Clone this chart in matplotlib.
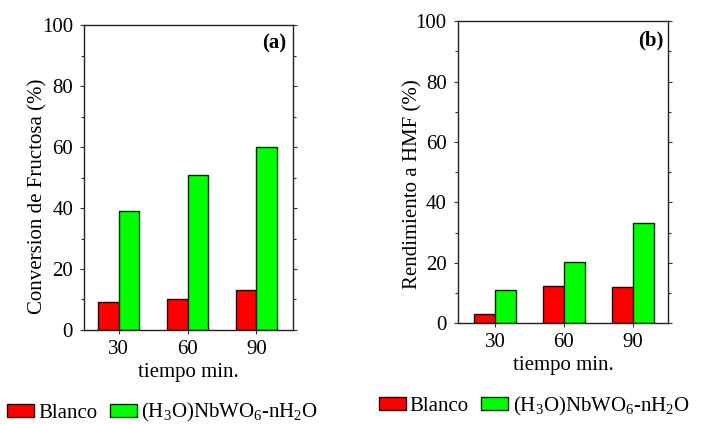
import numpy as np
import matplotlib
matplotlib.use("Agg")
import matplotlib.pyplot as plt
from matplotlib.ticker import MultipleLocator

plt.rcParams['font.family'] = ['Liberation Serif', 'DejaVu Serif']
plt.rcParams['mathtext.fontset'] = 'custom'
plt.rcParams['mathtext.rm'] = 'Liberation Serif'
plt.rcParams['mathtext.it'] = 'Liberation Serif:italic'

tiempo = ['30', '60', '90']
conv_blanco = [9, 10, 13]
conv_cat = [39, 51, 60]
rend_blanco = [3, 12.3, 12]
rend_cat = [11, 20.3, 33]
series_names = ['Blanco', r'(H$_3$O)NbWO$_6$-nH$_2$O']

RED = '#ff0000'
GREEN = '#00ff00'
W = 0.30


def panel(ax, blanco, cat, ylabel, tag, xlim, lab_x, lab_y, tag_xy):
    x = np.arange(len(tiempo))
    ax.bar(x - W / 2, blanco, W, color=RED, edgecolor='#300000', linewidth=1)
    ax.bar(x + W / 2, cat, W, color=GREEN, edgecolor='#003000', linewidth=1)
    ax.set_xticks(x)
    ax.set_xticklabels(tiempo)
    ax.set_xlim(*xlim)
    ax.set_ylim(0, 100)
    ax.yaxis.set_major_locator(MultipleLocator(20))
    ax.yaxis.set_minor_locator(MultipleLocator(10))
    ax.tick_params(axis='both', which='both', direction='out', labelsize=15,
                   width=0.8, color='#333333')
    ax.tick_params(axis='y', which='major', length=3, pad=5, right=True)
    ax.tick_params(axis='y', which='minor', length=2, right=True)
    ax.tick_params(axis='x', which='major', length=3, pad=4)
    ax.tick_params(axis='x', which='minor', bottom=False, top=False)
    ax.set_ylabel(ylabel, fontsize=15)
    ax.yaxis.set_label_coords(lab_x, lab_y)
    ax.set_xlabel('tiempo min.', fontsize=15, labelpad=3)
    ax.text(tag_xy[0], tag_xy[1], tag, transform=ax.transAxes, ha='right',
            va='top', fontsize=15, fontweight='bold')
    for s in ax.spines.values():
        s.set_linewidth(1)
        s.set_color('#222222')


fig = plt.figure(figsize=(7.01, 4.24), dpi=100)
ax1 = fig.add_axes([0.120, 0.222, 0.298, 0.718])
ax2 = fig.add_axes([0.653, 0.238, 0.300, 0.712])

panel(ax1, conv_blanco, conv_cat, 'Conversion de Fructosa (%)', '(a)',
      (-0.5, 2.53), -0.177, 0.44, (0.967, 0.975))
panel(ax2, rend_blanco, rend_cat, 'Rendimiento a HMF (%)', '(b)',
      (-0.54, 2.51), -0.167, 0.46, (0.976, 0.97))

handles = [plt.Rectangle((0, 0), 1, 1, fc=RED, ec='#300000', lw=1),
           plt.Rectangle((0, 0), 1, 1, fc=GREEN, ec='#003000', lw=1)]
for anchor in [(0.010, 0.026), (0.540, 0.042)]:
    fig.legend(handles, series_names, loc='center left', bbox_to_anchor=anchor,
               ncol=2, frameon=False, fontsize=15, handlelength=1.3,
               handleheight=0.6, handletextpad=0.2, columnspacing=0.6,
               borderpad=0, borderaxespad=0)

fig.savefig('out.png', dpi=100)
